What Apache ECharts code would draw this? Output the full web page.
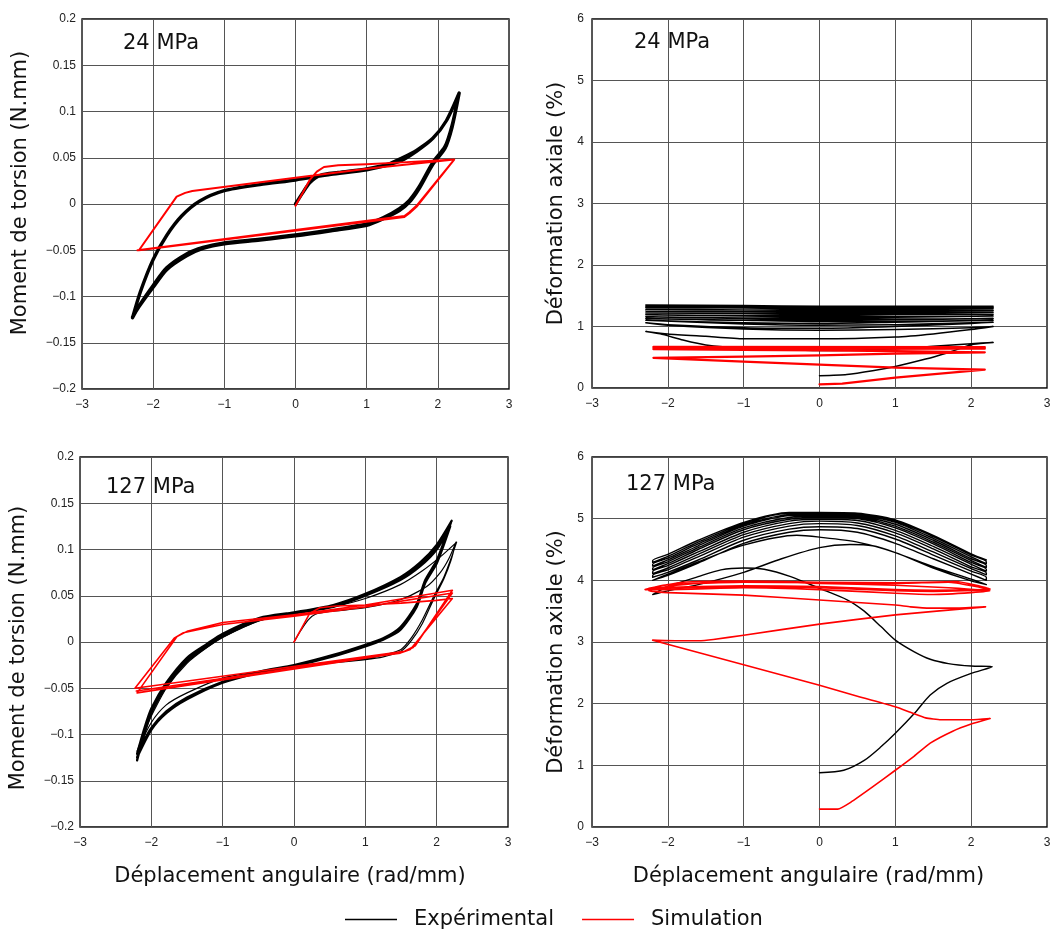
<!DOCTYPE html>
<html><head><meta charset="utf-8">
<script src="https://cdn.jsdelivr.net/npm/echarts@6/dist/echarts.min.js"></script>
<style>html,body{margin:0;padding:0;background:#fff}#c{width:1064px;height:931px}</style>
</head><body><div id="c"></div>
<script>
// ---------- tick labels ----------
const xTicks = [-3, -2, -1, 0, 1, 2, 3];
const torqueTicks = [-0.2, -0.15, -0.1, -0.05, 0, 0.05, 0.1, 0.15, 0.2];
const axialTicks = [0, 1, 2, 3, 4, 5, 6];
const panelLabels = ['24 MPa', '24 MPa', '127 MPa', '127 MPa'];
const seriesNames = ['Expérimental', 'Simulation'];
const xTitle = 'Déplacement angulaire (rad/mm)';
const yTitles = ['Moment de torsion (N.mm)', 'Déformation axiale (%)'];

// ---------- 24 MPa : torque ----------
const exp24Torque = [
  [0,0],[0.1,0.012],[0.2,0.023],[0.35,0.031],[0.6,0.034],[1,0.038],[1.3,0.043],[1.5,0.05],[1.7,0.058],[1.93,0.071],[2.12,0.09],[2.3,0.12],
  [2.2,0.085],[2.1,0.062],[1.93,0.045],[1.74,0.019],[1.6,0.004],[1.46,-0.005],[1.23,-0.015],[1,-0.0216],[0.5,-0.028],[0,-0.0335],[-0.5,-0.038],[-1,-0.042],[-1.3,-0.047],[-1.53,-0.054],[-1.81,-0.069],[-2,-0.088],[-2.18,-0.108],[-2.29,-0.123],
  [-2.18,-0.095],[-2,-0.06],[-1.81,-0.034],[-1.6,-0.013],[-1.35,0.003],[-1,0.0144],[-0.5,0.021],[0,0.026],[0.5,0.032],[1,0.037],[1.46,0.046],[1.7,0.057],[1.93,0.071],[2.12,0.09],[2.3,0.12],
  [2.2,0.083],[2.1,0.06],[1.93,0.043],[1.74,0.017],[1.6,0.002],[1.46,-0.007],[1.23,-0.016],[1,-0.023],[0.5,-0.029],[0,-0.0345],[-0.5,-0.039],[-1,-0.043],[-1.3,-0.048],[-1.53,-0.056],[-1.81,-0.071],[-2,-0.09],[-2.18,-0.109],[-2.29,-0.122]
];
const sim24Torque = [
  [0,-0.002],[0.1,0.012],[0.2,0.026],[0.3,0.035],[0.4,0.04],[0.6,0.042],[1,0.043],[1.5,0.045],[2.23,0.048],
  [1.7,-0.003],[1.6,-0.01],[1.53,-0.014],[-2.2,-0.05],
  [-1.67,0.008],[-1.55,0.012],[-1.45,0.014],[0,0.0285],[1,0.038],[2.23,0.048],
  [1.7,-0.002],[1.6,-0.009],[1.53,-0.013],[-2.22,-0.05]
];

// ---------- 24 MPa : axial strain ----------
const exp24Axial = [
  [0,0.2],[0.36,0.22],[0.7,0.28],[1,0.35],[1.4,0.47],[1.68,0.57],[2.03,0.71],[2.29,0.74],
  [2,0.72],[1.5,0.68],[1,0.64],[0,0.61],[-1,0.65],[-1.5,0.7],[-1.8,0.78],[-2.1,0.88],[-2.29,0.92],
  [-2,0.88],[-1.5,0.84],[-1,0.8],[0,0.8],[1,0.83],[1.5,0.88],[2,0.95],[2.29,1.0],
  [2,0.98],[1,0.95],[0,0.94],[-1,0.96],[-2,1.02],[-2.29,1.06],
  [-2,1.03],[-1,0.98],[0,0.97],[1,1.0],[2,1.05],[2.29,1.07],
  [1,1.03],[0,1.02],[-1,1.04],[-2.29,1.1],
  [-1,1.06],[0,1.05],[1,1.07],[2.29,1.1],
  [1,1.08],[0,1.08],[-1,1.1],[-2.29,1.13],
  [-1,1.1],[0,1.1],[1,1.11],[2.29,1.13],
  [1,1.12],[0,1.12],[-1,1.13],[-2.29,1.16],
  [-1,1.14],[0,1.14],[1,1.15],[2.29,1.17],
  [1,1.16],[0,1.16],[-1,1.17],[-2.29,1.19],
  [-1,1.18],[0,1.18],[1,1.19],[2.29,1.2],
  [1,1.2],[0,1.2],[-1,1.21],[-2.29,1.22],
  [-1,1.21],[0,1.21],[1,1.22],[2.29,1.23],
  [1,1.23],[0,1.23],[-1,1.24],[-2.29,1.25],
  [-1,1.24],[0,1.24],[1,1.25],[2.29,1.26],
  [1,1.26],[0,1.26],[-1,1.27],[-2.29,1.28],
  [-1,1.27],[0,1.27],[1,1.28],[2.29,1.29],
  [1,1.29],[0,1.29],[-1,1.3],[-2.29,1.31],
  [-1,1.3],[0,1.3],[1,1.31],[2.29,1.31],
  [1,1.31],[0,1.31],[-1,1.32],[-2.29,1.33],
  [-1,1.33],[0,1.32],[1,1.32],[2.29,1.33],
  [1,1.33],[0,1.33],[-1,1.34],[-2.29,1.35]
];
const sim24Axial = [
  [0,0.06],[0.3,0.07],[1,0.17],[2.18,0.3],
  [1,0.33],[0,0.38],[-1,0.43],[-2.19,0.49],
  [-1,0.51],[0,0.53],[1,0.56],[2.18,0.58],
  [1,0.6],[0,0.61],[-1,0.62],[-2.19,0.63],
  [2.18,0.64],[-2.19,0.645],[2.18,0.65],[-2.19,0.655],[2.18,0.655],[-2.19,0.66],[2.18,0.66],[-2.19,0.665],[2.18,0.665],[-2.19,0.67]
];

// ---------- 127 MPa : torque ----------
const exp127TorqueFirst = [
  [0,0],[0.1,0.013],[0.2,0.024],[0.3,0.03],[0.5,0.033],[1,0.037],[1.5,0.046],[1.86,0.06],[2.05,0.075],[2.17,0.09],[2.27,0.108],
  [2.2,0.088],[2.1,0.068],[1.95,0.045],[1.8,0.02],[1.65,0.002],[1.5,-0.01],[1.25,-0.016],[1,-0.019],[0.5,-0.023],[0,-0.027],[-0.5,-0.032],[-1,-0.039],[-1.5,-0.055],[-1.79,-0.068],[-2.0,-0.087],[-2.2,-0.118],
  [-2.1,-0.098],[-2.0,-0.08],[-1.79,-0.05],[-1.5,-0.023],[-1.22,-0.006],[-1,0.005],[-0.48,0.023],[0,0.031],[0.55,0.038],[1,0.047],[1.49,0.062],[1.8,0.077],[2.05,0.092],[2.28,0.108],
  [2.2,0.09],[2.1,0.07],[1.95,0.048],[1.8,0.024],[1.65,0.005],[1.5,-0.008],[1.25,-0.014],[1,-0.018],[0.5,-0.022],[0,-0.026]
];
const exp127TorqueCycles = [
  [-2.2,-0.128],[-2.1,-0.1],[-2.0,-0.077],[-1.79,-0.048],[-1.5,-0.021],[-1.22,-0.005],[-1,0.006],[-0.48,0.024],[0,0.031],[0.55,0.038],[1,0.05],[1.49,0.067],[1.77,0.082],[2,0.1],[2.19,0.125],
  [2.1,0.105],[2,0.085],[1.84,0.064],[1.72,0.038],[1.49,0.013],[1.25,0.0025],[1,-0.0047],[0.55,-0.0155],[0,-0.026],[-0.48,-0.033],[-1,-0.044],[-1.5,-0.062],[-1.79,-0.077],[-2,-0.095],[-2.2,-0.125],
  [-2.1,-0.097],[-2.0,-0.074],[-1.79,-0.046],[-1.5,-0.019],[-1.22,-0.003],[-1,0.008],[-0.48,0.025],[0,0.032],[0.55,0.039],[1,0.051],[1.49,0.069],[1.77,0.084],[2,0.103],[2.2,0.129],
  [2.1,0.108],[2,0.088],[1.84,0.067],[1.72,0.041],[1.49,0.016],[1.25,0.004],[1,-0.003],[0.55,-0.014],[0,-0.025],[-0.48,-0.032],[-1,-0.043],[-1.5,-0.06],[-1.79,-0.075],[-2,-0.093],[-2.2,-0.121],
  [-2.1,-0.094],[-2.0,-0.072],[-1.79,-0.044],[-1.5,-0.017],[-1.22,-0.002],[-1,0.009],[-0.48,0.026],[0,0.032],[0.55,0.04],[1,0.052],[1.49,0.07],[1.77,0.086],[2,0.105],[2.21,0.131]
];
const sim127Torque = [
  [0,0],[0.1,0.014],[0.22,0.031],[0.36,0.037],[0.6,0.039],[1,0.04],[1.5,0.042],[2,0.045],[2.22,0.047],
  [1.63,-0.008],[1.49,-0.012],[1.2,-0.015],[-2.2,-0.055],
  [-1.64,0.006],[-1.5,0.0115],[-1,0.021],[0,0.0295],[1,0.04],[2.22,0.056],
  [1.7,-0.004],[1.55,-0.01],[-2.23,-0.05],
  [-1.68,0.004],[-1.55,0.01],[-1,0.019],[0,0.028],[1,0.038],[2.22,0.053],
  [1.67,-0.006],[1.52,-0.011],[-2.21,-0.053]
];

// ---------- 127 MPa : axial strain ----------
const exp127Axial = [
  [0,0.88],[0.32,0.92],[0.59,1.08],[0.81,1.3],[1,1.52],[1.25,1.84],[1.46,2.14],[1.68,2.33],[2,2.49],[2.28,2.6],
  [2,2.61],[1.7,2.65],[1.46,2.72],[1.25,2.84],[1,3.03],[0.81,3.25],[0.59,3.5],[0.37,3.68],[0,3.87],[-0.38,4.06],[-0.73,4.18],[-1.0,4.2],[-1.3,4.17],[-1.6,4.06],[-2,3.9],[-2.2,3.77],
  [-2,3.83],[-1.6,3.93],[-1,4.13],[-0.5,4.35],[0,4.53],[0.4,4.58],[0.7,4.56],[1,4.45],[1.5,4.22],[2,4.02],[2.2,3.93],
  [2,3.99],[1.5,4.2],[1,4.45],[0.5,4.62],[0,4.7],[-0.3,4.73],[-1,4.57],[-1.6,4.3],[-2,4.1],[-2.2,4.0],
  [-2,4.08],[-1.6,4.28],[-1,4.6],[-0.4,4.78],[0,4.82],[0.5,4.78],[1,4.6],[1.5,4.35],[2,4.1],[2.2,4.0],
  [2.2,4.05],[2,4.15],[1.5,4.41],[1,4.67],[0.5,4.84],[0,4.87],[-0.4,4.83],[-1,4.65],[-1.6,4.33],[-2,4.13],[-2.2,4.05],
  [-2.2,4.08],[-2,4.17],[-1.6,4.38],[-1,4.7],[-0.4,4.88],[0,4.92],[0.5,4.89],[1,4.72],[1.5,4.46],[2,4.19],[2.2,4.09],
  [2.2,4.12],[2,4.22],[1.5,4.51],[1,4.77],[0.5,4.93],[0,4.96],[-0.4,4.92],[-1,4.74],[-1.6,4.42],[-2,4.2],[-2.2,4.11],
  [-2.2,4.14],[-2,4.24],[-1.6,4.46],[-1,4.78],[-0.4,4.96],[0,4.99],[0.5,4.97],[1,4.81],[1.5,4.55],[2,4.26],[2.2,4.15],
  [2.2,4.18],[2,4.29],[1.5,4.59],[1,4.85],[0.5,5.0],[0,5.02],[-0.4,4.99],[-1,4.82],[-1.6,4.5],[-2,4.27],[-2.2,4.17],
  [-2.2,4.2],[-2,4.3],[-1.6,4.53],[-1,4.85],[-0.4,5.02],[0,5.04],[0.5,5.02],[1,4.88],[1.5,4.62],[2,4.32],[2.2,4.21],
  [2.2,4.24],[2,4.35],[1.5,4.65],[1,4.91],[0.5,5.04],[0,5.06],[-0.4,5.05],[-1,4.88],[-1.6,4.56],[-2,4.33],[-2.2,4.23],
  [-2.2,4.26],[-2,4.36],[-1.6,4.59],[-1,4.9],[-0.4,5.07],[0,5.08],[0.5,5.06],[1,4.94],[1.5,4.68],[2,4.38],[2.2,4.27],
  [2.2,4.3],[2,4.41],[1.5,4.71],[1,4.96],[0.5,5.08],[0,5.09],[-0.4,5.09],[-1,4.92],[-1.6,4.62],[-2,4.39],[-2.2,4.29],
  [-2.2,4.32],[-2,4.42],[-1.6,4.65],[-1,4.94],[-0.4,5.1],[0,5.1],[0.5,5.09],[1,4.98],[1.5,4.73],[2,4.43],[2.2,4.33]
];
const sim127Axial = [
  [0,0.29],[0.24,0.29],[0.41,0.4],[0.7,0.65],[1,0.92],[1.25,1.15],[1.46,1.36],[1.75,1.55],[2,1.67],[2.25,1.76],
  [2,1.74],[1.6,1.74],[1.4,1.77],[1.2,1.86],[1,1.95],[0.5,2.12],[0,2.3],[-1,2.63],[-2.2,3.03],
  [-1.9,3.02],[-1.6,3.02],[-1.4,3.04],[-1,3.11],[0,3.29],[1,3.44],[2.19,3.57],
  [1.8,3.55],[1.46,3.55],[1.2,3.57],[1,3.6],[0,3.68],[-1,3.76],[-2,3.8],[-2.25,3.83],
  [-2,3.9],[-1.5,3.96],[-1,3.98],[0,3.95],[1,3.92],[1.7,3.88],[2.25,3.83],
  [2,3.8],[1.5,3.77],[1,3.79],[0,3.85],[-1,3.88],[-2,3.85],[-2.3,3.85],
  [-2,3.93],[-1,3.97],[0,3.96],[1,3.95],[1.7,3.97],[2.25,3.85],
  [1.5,3.82],[1,3.83],[0,3.88],[-1,3.9],[-2.25,3.87],
  [-1.8,3.97],[-1,3.99],[0,3.97],[1,3.96],[1.8,3.98],[2.25,3.86],
  [1.5,3.84],[1,3.85],[0,3.9],[-1,3.91],[-2.2,3.88]
];

// ---------- build chart ----------
const BLACK = '#000000', RED = '#ff0000';
const fmt = v => (v < 0 ? '\u2212' : '') + String(Math.abs(Math.round(v * 1000) / 1000));
const grids = [
  { left: 82, top: 19, width: 427, height: 370 },
  { left: 592, top: 19, width: 455, height: 369 },
  { left: 80, top: 457, width: 428, height: 370 },
  { left: 592, top: 457, width: 455, height: 370 }
].map(g => Object.assign({ show: true, borderColor: '#000', borderWidth: 1.3, backgroundColor: 'transparent' }, g));

const tickFont = { fontFamily: 'Liberation Sans', fontSize: 12, color: '#222' };
const titleFont = { fontFamily: 'DejaVu Sans', fontSize: 21, color: '#111' };
function xAxis(i) {
  const xpads = [[0, 0, 0, 0], [0, 0, 0, 0], [0, 8, 0, 0], [0, 22, 0, 0]];
  return {
    type: 'value', gridIndex: i, min: xTicks[0], max: xTicks[xTicks.length - 1], interval: xTicks[1] - xTicks[0],
    axisLine: { show: false }, axisTick: { show: false },
    axisLabel: Object.assign({ formatter: fmt, margin: 10 }, tickFont),
    splitLine: { show: true, lineStyle: { color: '#555', width: 1 } },
    name: i >= 2 ? xTitle : '', nameLocation: 'middle', nameGap: 39,
    nameTextStyle: Object.assign({ padding: xpads[i] }, titleFont)
  };
}
function yAxis(i) {
  const ticks = (i % 2 === 0) ? torqueTicks : axialTicks;
  const pads = [[0, 0, 0, 22], [0, 0, 0, 0], [0, 12, 0, 0], [0, 20, 0, 0]];
  return {
    type: 'value', gridIndex: i, min: ticks[0], max: ticks[ticks.length - 1],
    interval: Math.round((ticks[1] - ticks[0]) * 1000) / 1000,
    axisLine: { show: false }, axisTick: { show: false },
    axisLabel: Object.assign({ formatter: fmt, margin: (i % 2 === 0) ? 6 : 8 }, tickFont),
    splitLine: { show: true, lineStyle: { color: '#555', width: 1 } },
    name: yTitles[i % 2], nameLocation: 'middle', nameGap: (i % 2 === 0) ? 51 : 25,
    nameTextStyle: Object.assign({ padding: pads[i] }, titleFont)
  };
}
function line(name, data, idx, color, width, z, smooth) {
  return {
    name: name, type: 'line', data: data, xAxisIndex: idx, yAxisIndex: idx,
    showSymbol: false, symbol: 'none', smooth: smooth || false, clip: true, z: z,
    lineStyle: { color: color, width: width, join: 'round', cap: 'round' },
    itemStyle: { color: color }, emphasis: { disabled: true }
  };
}
const series = [
  line(seriesNames[0], exp24Torque, 0, BLACK, 3.4, 2, 0.25),
  line(seriesNames[1], sim24Torque, 0, RED, 2, 3),
  line(seriesNames[0], exp24Axial, 1, BLACK, 1.5, 2, 0.2),
  line(seriesNames[1], sim24Axial, 1, RED, 2.2, 3),
  line(seriesNames[0], exp127TorqueFirst, 2, BLACK, 1.2, 2, 0.25),
  line(seriesNames[0], exp127TorqueCycles, 2, BLACK, 2.3, 2, 0.25),
  line(seriesNames[1], sim127Torque, 2, RED, 1.6, 3),
  line(seriesNames[0], exp127Axial, 3, BLACK, 1.4, 2, 0.25),
  line(seriesNames[1], sim127Axial, 3, RED, 1.6, 3, 0.15)
];
const labelPos = [[123, 44], [634, 43], [106, 488], [626, 485]];
const graphic = panelLabels.map((t, i) => ({
  type: 'text', x: labelPos[i][0], y: labelPos[i][1], z: 10,
  style: { text: t, font: '21px "DejaVu Sans"', fill: '#111', verticalAlign: 'middle', align: 'left' }
}));

const chart = echarts.init(document.getElementById('c'), null, { renderer: 'canvas' });
chart.setOption({
  animation: false, backgroundColor: '#fff',
  grid: grids,
  xAxis: [0, 1, 2, 3].map(xAxis),
  yAxis: [0, 1, 2, 3].map(yAxis),
  legend: {
    data: seriesNames, left: 340, top: 904, icon: 'rect', itemWidth: 52, itemHeight: 1.5, itemGap: 28,
    textStyle: { fontFamily: 'DejaVu Sans', fontSize: 21, color: '#111', padding: [0, 0, 0, 12] }
  },
  graphic: graphic,
  series: series
});
</script></body></html>
